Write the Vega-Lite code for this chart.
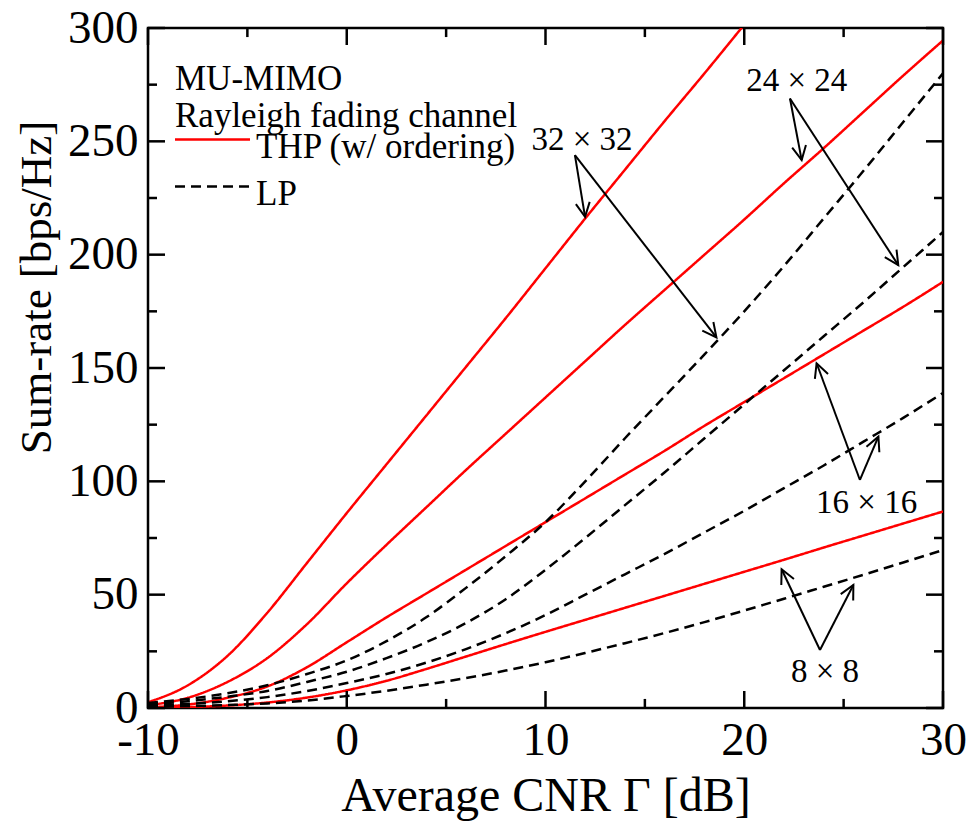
{
  "$schema": "https://vega.github.io/schema/vega-lite/v6.json",
  "width": 795,
  "height": 680,
  "autosize": {"type": "none"},
  "padding": {"left": 148, "top": 28, "right": 24, "bottom": 113},
  "background": "#ffffff",
  "config": {
    "view": {"stroke": "#000000", "strokeWidth": 2.5},
    "font": "Liberation Serif",
    "axis": {
      "domain": false,
      "ticks": false,
      "tickSize": 0,
      "grid": false,
      "labelFont": "Liberation Serif",
      "labelFontSize": 47,
      "labelColor": "#000000",
      "titleFont": "Liberation Serif",
      "titleFontSize": 46,
      "titleFontWeight": "normal",
      "titleColor": "#000000",
      "labelOverlap": false,
      "labelFlush": false,
      "labelBound": false
    },
    "legend": {
      "orient": "none",
      "legendX": 27,
      "legendY": 34,
      "padding": 0,
      "titleFont": "Liberation Serif",
      "titleFontSize": 35,
      "titleFontWeight": "normal",
      "titleColor": "#000000",
      "titleLineHeight": 37,
      "titlePadding": -12,
      "titleLimit": 0,
      "labelFont": "Liberation Serif",
      "labelFontSize": 35,
      "labelColor": "#000000",
      "labelOffset": 46,
      "labelLimit": 0,
      "labelBaseline": "middle",
      "symbolType": "M-2.333,0L7.667,0",
      "symbolSize": 225,
      "symbolStrokeWidth": 2.5,
      "rowPadding": 4
    }
  },
  "datasets": {
    "curves": [
      {"snr": -10, "rate": 2.5, "size": "32", "scheme": "THP (w/ ordering)"},
      {"snr": -8, "rate": 10, "size": "32", "scheme": "THP (w/ ordering)"},
      {"snr": -6, "rate": 23, "size": "32", "scheme": "THP (w/ ordering)"},
      {"snr": -4, "rate": 42, "size": "32", "scheme": "THP (w/ ordering)"},
      {"snr": -2, "rate": 64, "size": "32", "scheme": "THP (w/ ordering)"},
      {"snr": 0, "rate": 86, "size": "32", "scheme": "THP (w/ ordering)"},
      {"snr": 2, "rate": 107.5, "size": "32", "scheme": "THP (w/ ordering)"},
      {"snr": 4, "rate": 129, "size": "32", "scheme": "THP (w/ ordering)"},
      {"snr": 6, "rate": 150.5, "size": "32", "scheme": "THP (w/ ordering)"},
      {"snr": 8, "rate": 172, "size": "32", "scheme": "THP (w/ ordering)"},
      {"snr": 10, "rate": 194, "size": "32", "scheme": "THP (w/ ordering)"},
      {"snr": 12, "rate": 216, "size": "32", "scheme": "THP (w/ ordering)"},
      {"snr": 14, "rate": 237.5, "size": "32", "scheme": "THP (w/ ordering)"},
      {"snr": 16, "rate": 259, "size": "32", "scheme": "THP (w/ ordering)"},
      {"snr": 18, "rate": 280, "size": "32", "scheme": "THP (w/ ordering)"},
      {"snr": 20, "rate": 301.5, "size": "32", "scheme": "THP (w/ ordering)"},

      {"snr": -10, "rate": 1.2, "size": "24", "scheme": "THP (w/ ordering)"},
      {"snr": -8, "rate": 4.5, "size": "24", "scheme": "THP (w/ ordering)"},
      {"snr": -6, "rate": 11.5, "size": "24", "scheme": "THP (w/ ordering)"},
      {"snr": -4, "rate": 22, "size": "24", "scheme": "THP (w/ ordering)"},
      {"snr": -2, "rate": 37, "size": "24", "scheme": "THP (w/ ordering)"},
      {"snr": 0, "rate": 55, "size": "24", "scheme": "THP (w/ ordering)"},
      {"snr": 2, "rate": 72, "size": "24", "scheme": "THP (w/ ordering)"},
      {"snr": 4, "rate": 88.5, "size": "24", "scheme": "THP (w/ ordering)"},
      {"snr": 6, "rate": 105, "size": "24", "scheme": "THP (w/ ordering)"},
      {"snr": 8, "rate": 121, "size": "24", "scheme": "THP (w/ ordering)"},
      {"snr": 10, "rate": 137, "size": "24", "scheme": "THP (w/ ordering)"},
      {"snr": 12, "rate": 153, "size": "24", "scheme": "THP (w/ ordering)"},
      {"snr": 14, "rate": 169, "size": "24", "scheme": "THP (w/ ordering)"},
      {"snr": 16, "rate": 184.5, "size": "24", "scheme": "THP (w/ ordering)"},
      {"snr": 18, "rate": 200, "size": "24", "scheme": "THP (w/ ordering)"},
      {"snr": 20, "rate": 215.5, "size": "24", "scheme": "THP (w/ ordering)"},
      {"snr": 22, "rate": 231.5, "size": "24", "scheme": "THP (w/ ordering)"},
      {"snr": 24, "rate": 247, "size": "24", "scheme": "THP (w/ ordering)"},
      {"snr": 26, "rate": 263, "size": "24", "scheme": "THP (w/ ordering)"},
      {"snr": 28, "rate": 279, "size": "24", "scheme": "THP (w/ ordering)"},
      {"snr": 30, "rate": 294.5, "size": "24", "scheme": "THP (w/ ordering)"},

      {"snr": -10, "rate": 0.3, "size": "16", "scheme": "THP (w/ ordering)"},
      {"snr": -8, "rate": 1.5, "size": "16", "scheme": "THP (w/ ordering)"},
      {"snr": -6, "rate": 4.5, "size": "16", "scheme": "THP (w/ ordering)"},
      {"snr": -4, "rate": 9.5, "size": "16", "scheme": "THP (w/ ordering)"},
      {"snr": -2, "rate": 18, "size": "16", "scheme": "THP (w/ ordering)"},
      {"snr": 0, "rate": 29, "size": "16", "scheme": "THP (w/ ordering)"},
      {"snr": 2, "rate": 40, "size": "16", "scheme": "THP (w/ ordering)"},
      {"snr": 4, "rate": 50.5, "size": "16", "scheme": "THP (w/ ordering)"},
      {"snr": 6, "rate": 61, "size": "16", "scheme": "THP (w/ ordering)"},
      {"snr": 8, "rate": 71.5, "size": "16", "scheme": "THP (w/ ordering)"},
      {"snr": 10, "rate": 82, "size": "16", "scheme": "THP (w/ ordering)"},
      {"snr": 12, "rate": 92.5, "size": "16", "scheme": "THP (w/ ordering)"},
      {"snr": 14, "rate": 103, "size": "16", "scheme": "THP (w/ ordering)"},
      {"snr": 16, "rate": 113.5, "size": "16", "scheme": "THP (w/ ordering)"},
      {"snr": 18, "rate": 124.5, "size": "16", "scheme": "THP (w/ ordering)"},
      {"snr": 20, "rate": 135, "size": "16", "scheme": "THP (w/ ordering)"},
      {"snr": 22, "rate": 145.5, "size": "16", "scheme": "THP (w/ ordering)"},
      {"snr": 24, "rate": 156, "size": "16", "scheme": "THP (w/ ordering)"},
      {"snr": 26, "rate": 166.5, "size": "16", "scheme": "THP (w/ ordering)"},
      {"snr": 28, "rate": 177, "size": "16", "scheme": "THP (w/ ordering)"},
      {"snr": 30, "rate": 188, "size": "16", "scheme": "THP (w/ ordering)"},

      {"snr": -10, "rate": 0.1, "size": "8", "scheme": "THP (w/ ordering)"},
      {"snr": -8, "rate": 0.4, "size": "8", "scheme": "THP (w/ ordering)"},
      {"snr": -6, "rate": 1.1, "size": "8", "scheme": "THP (w/ ordering)"},
      {"snr": -4, "rate": 2.4, "size": "8", "scheme": "THP (w/ ordering)"},
      {"snr": -2, "rate": 4.6, "size": "8", "scheme": "THP (w/ ordering)"},
      {"snr": 0, "rate": 7.8, "size": "8", "scheme": "THP (w/ ordering)"},
      {"snr": 2, "rate": 12, "size": "8", "scheme": "THP (w/ ordering)"},
      {"snr": 4, "rate": 17.2, "size": "8", "scheme": "THP (w/ ordering)"},
      {"snr": 6, "rate": 22.7, "size": "8", "scheme": "THP (w/ ordering)"},
      {"snr": 8, "rate": 28.2, "size": "8", "scheme": "THP (w/ ordering)"},
      {"snr": 10, "rate": 33.6, "size": "8", "scheme": "THP (w/ ordering)"},
      {"snr": 12, "rate": 38.9, "size": "8", "scheme": "THP (w/ ordering)"},
      {"snr": 14, "rate": 44.2, "size": "8", "scheme": "THP (w/ ordering)"},
      {"snr": 16, "rate": 49.5, "size": "8", "scheme": "THP (w/ ordering)"},
      {"snr": 18, "rate": 54.8, "size": "8", "scheme": "THP (w/ ordering)"},
      {"snr": 20, "rate": 60.1, "size": "8", "scheme": "THP (w/ ordering)"},
      {"snr": 22, "rate": 65.4, "size": "8", "scheme": "THP (w/ ordering)"},
      {"snr": 24, "rate": 70.8, "size": "8", "scheme": "THP (w/ ordering)"},
      {"snr": 26, "rate": 76.1, "size": "8", "scheme": "THP (w/ ordering)"},
      {"snr": 28, "rate": 81.4, "size": "8", "scheme": "THP (w/ ordering)"},
      {"snr": 30, "rate": 86.7, "size": "8", "scheme": "THP (w/ ordering)"},

      {"snr": -10, "rate": 2.2, "size": "32", "scheme": "LP"},
      {"snr": -8, "rate": 4, "size": "32", "scheme": "LP"},
      {"snr": -6, "rate": 6.5, "size": "32", "scheme": "LP"},
      {"snr": -4, "rate": 10, "size": "32", "scheme": "LP"},
      {"snr": -2, "rate": 15, "size": "32", "scheme": "LP"},
      {"snr": 0, "rate": 21, "size": "32", "scheme": "LP"},
      {"snr": 2, "rate": 29.5, "size": "32", "scheme": "LP"},
      {"snr": 4, "rate": 40, "size": "32", "scheme": "LP"},
      {"snr": 6, "rate": 53, "size": "32", "scheme": "LP"},
      {"snr": 8, "rate": 67, "size": "32", "scheme": "LP"},
      {"snr": 10, "rate": 82, "size": "32", "scheme": "LP"},
      {"snr": 12, "rate": 100, "size": "32", "scheme": "LP"},
      {"snr": 14, "rate": 119, "size": "32", "scheme": "LP"},
      {"snr": 16, "rate": 137.5, "size": "32", "scheme": "LP"},
      {"snr": 18, "rate": 156, "size": "32", "scheme": "LP"},
      {"snr": 20, "rate": 175, "size": "32", "scheme": "LP"},
      {"snr": 22, "rate": 195, "size": "32", "scheme": "LP"},
      {"snr": 24, "rate": 216, "size": "32", "scheme": "LP"},
      {"snr": 26, "rate": 237, "size": "32", "scheme": "LP"},
      {"snr": 28, "rate": 258.5, "size": "32", "scheme": "LP"},
      {"snr": 30, "rate": 280, "size": "32", "scheme": "LP"},

      {"snr": -10, "rate": 1.6, "size": "24", "scheme": "LP"},
      {"snr": -8, "rate": 3, "size": "24", "scheme": "LP"},
      {"snr": -6, "rate": 5, "size": "24", "scheme": "LP"},
      {"snr": -4, "rate": 7.5, "size": "24", "scheme": "LP"},
      {"snr": -2, "rate": 11.5, "size": "24", "scheme": "LP"},
      {"snr": 0, "rate": 16, "size": "24", "scheme": "LP"},
      {"snr": 2, "rate": 22, "size": "24", "scheme": "LP"},
      {"snr": 4, "rate": 29, "size": "24", "scheme": "LP"},
      {"snr": 6, "rate": 37.5, "size": "24", "scheme": "LP"},
      {"snr": 8, "rate": 48, "size": "24", "scheme": "LP"},
      {"snr": 10, "rate": 61, "size": "24", "scheme": "LP"},
      {"snr": 12, "rate": 75, "size": "24", "scheme": "LP"},
      {"snr": 14, "rate": 89.5, "size": "24", "scheme": "LP"},
      {"snr": 16, "rate": 104, "size": "24", "scheme": "LP"},
      {"snr": 18, "rate": 119, "size": "24", "scheme": "LP"},
      {"snr": 20, "rate": 134, "size": "24", "scheme": "LP"},
      {"snr": 22, "rate": 149, "size": "24", "scheme": "LP"},
      {"snr": 24, "rate": 164, "size": "24", "scheme": "LP"},
      {"snr": 26, "rate": 179, "size": "24", "scheme": "LP"},
      {"snr": 28, "rate": 194.5, "size": "24", "scheme": "LP"},
      {"snr": 30, "rate": 210, "size": "24", "scheme": "LP"},

      {"snr": -10, "rate": 1, "size": "16", "scheme": "LP"},
      {"snr": -8, "rate": 1.8, "size": "16", "scheme": "LP"},
      {"snr": -6, "rate": 3, "size": "16", "scheme": "LP"},
      {"snr": -4, "rate": 4.8, "size": "16", "scheme": "LP"},
      {"snr": -2, "rate": 7.5, "size": "16", "scheme": "LP"},
      {"snr": 0, "rate": 11, "size": "16", "scheme": "LP"},
      {"snr": 2, "rate": 15, "size": "16", "scheme": "LP"},
      {"snr": 4, "rate": 20, "size": "16", "scheme": "LP"},
      {"snr": 6, "rate": 26, "size": "16", "scheme": "LP"},
      {"snr": 8, "rate": 33, "size": "16", "scheme": "LP"},
      {"snr": 10, "rate": 41, "size": "16", "scheme": "LP"},
      {"snr": 12, "rate": 50, "size": "16", "scheme": "LP"},
      {"snr": 14, "rate": 59, "size": "16", "scheme": "LP"},
      {"snr": 16, "rate": 68, "size": "16", "scheme": "LP"},
      {"snr": 18, "rate": 77.5, "size": "16", "scheme": "LP"},
      {"snr": 20, "rate": 87, "size": "16", "scheme": "LP"},
      {"snr": 22, "rate": 97, "size": "16", "scheme": "LP"},
      {"snr": 24, "rate": 107, "size": "16", "scheme": "LP"},
      {"snr": 26, "rate": 117.5, "size": "16", "scheme": "LP"},
      {"snr": 28, "rate": 128, "size": "16", "scheme": "LP"},
      {"snr": 30, "rate": 139, "size": "16", "scheme": "LP"},

      {"snr": -10, "rate": 0.5, "size": "8", "scheme": "LP"},
      {"snr": -8, "rate": 0.8, "size": "8", "scheme": "LP"},
      {"snr": -6, "rate": 1.3, "size": "8", "scheme": "LP"},
      {"snr": -4, "rate": 2, "size": "8", "scheme": "LP"},
      {"snr": -2, "rate": 3.3, "size": "8", "scheme": "LP"},
      {"snr": 0, "rate": 5.3, "size": "8", "scheme": "LP"},
      {"snr": 2, "rate": 7.6, "size": "8", "scheme": "LP"},
      {"snr": 4, "rate": 10.3, "size": "8", "scheme": "LP"},
      {"snr": 6, "rate": 13.2, "size": "8", "scheme": "LP"},
      {"snr": 8, "rate": 16.5, "size": "8", "scheme": "LP"},
      {"snr": 10, "rate": 20.2, "size": "8", "scheme": "LP"},
      {"snr": 12, "rate": 24.3, "size": "8", "scheme": "LP"},
      {"snr": 14, "rate": 28.6, "size": "8", "scheme": "LP"},
      {"snr": 16, "rate": 33.1, "size": "8", "scheme": "LP"},
      {"snr": 18, "rate": 37.9, "size": "8", "scheme": "LP"},
      {"snr": 20, "rate": 43, "size": "8", "scheme": "LP"},
      {"snr": 22, "rate": 48.2, "size": "8", "scheme": "LP"},
      {"snr": 24, "rate": 53.5, "size": "8", "scheme": "LP"},
      {"snr": 26, "rate": 58.8, "size": "8", "scheme": "LP"},
      {"snr": 28, "rate": 64.2, "size": "8", "scheme": "LP"},
      {"snr": 30, "rate": 69.7, "size": "8", "scheme": "LP"}
    ],
    "xticks": [
      {"value": -10}, {"value": -5}, {"value": 0}, {"value": 5}, {"value": 10},
      {"value": 15}, {"value": 20}, {"value": 25}, {"value": 30}
    ],
    "yticks": [
      {"value": 0}, {"value": 25}, {"value": 50}, {"value": 75}, {"value": 100},
      {"value": 125}, {"value": 150}, {"value": 175}, {"value": 200}, {"value": 225},
      {"value": 250}, {"value": 275}, {"value": 300}
    ],
    "arrows": [
      {"label": "32 × 32", "x1": 11.48, "y1": 243.9, "x2": 11.99, "y2": 216.7},
      {"label": "32 × 32", "x1": 11.48, "y1": 243.9, "x2": 18.6, "y2": 163.5},
      {"label": "24 × 24", "x1": 22.3, "y1": 268.9, "x2": 22.89, "y2": 241.7},
      {"label": "24 × 24", "x1": 22.3, "y1": 268.9, "x2": 27.75, "y2": 195.4},
      {"label": "16 × 16", "x1": 25.82, "y1": 100.6, "x2": 23.64, "y2": 152.1},
      {"label": "16 × 16", "x1": 25.82, "y1": 100.6, "x2": 26.75, "y2": 119.7},
      {"label": "8 × 8", "x1": 23.81, "y1": 25.6, "x2": 21.88, "y2": 61.2},
      {"label": "8 × 8", "x1": 23.81, "y1": 25.6, "x2": 25.49, "y2": 54.3}
    ],
    "labels": [
      {"label": "32 × 32", "x": 11.84, "y": 250.8},
      {"label": "24 × 24", "x": 22.64, "y": 276.6},
      {"label": "16 × 16", "x": 26.16, "y": 90.6},
      {"label": "8 × 8", "x": 24.06, "y": 16.0}
    ]
  },
  "layer": [
    {
      "data": {"name": "curves"},
      "mark": {"type": "line", "strokeWidth": 2.5, "interpolate": "monotone", "clip": true},
      "encoding": {
        "x": {
          "field": "snr", "type": "quantitative",
          "scale": {"domain": [-10, 30], "nice": false, "zero": false},
          "axis": {
            "orient": "bottom",
            "values": [-10, 0, 10, 20, 30],
            "labelExpr": "'' + datum.value",
            "labelPadding": 9,
            "title": "Average CNR Γ [dB]",
            "titleFontSize": 48,
            "titleY": 102,
            "titleBaseline": "alphabetic"
          }
        },
        "y": {
          "field": "rate", "type": "quantitative",
          "scale": {"domain": [0, 300], "nice": false},
          "axis": {
            "orient": "left",
            "values": [0, 50, 100, 150, 200, 250, 300],
            "labelExpr": "'' + datum.value",
            "labelPadding": 10,
            "title": "Sum-rate [bps/Hz]",
            "titleFontSize": 45,
            "titleAngle": -90,
            "titleX": -98,
            "titleY": 259,
            "titleBaseline": "alphabetic"
          }
        },
        "detail": {"field": "size"},
        "color": {
          "field": "scheme", "type": "nominal",
          "scale": {"domain": ["THP (w/ ordering)", "LP"], "range": ["#ff0000", "#000000"]},
          "legend": {
            "title": ["MU-MIMO", "Rayleigh fading channel"],
            "encode": {"labels": {"update": {"dy": {"value": 7}}}}
          }
        },
        "strokeDash": {
          "field": "scheme", "type": "nominal",
          "scale": {"domain": ["THP (w/ ordering)", "LP"], "range": [[1, 0], [10, 6]]},
          "legend": {
            "title": ["MU-MIMO", "Rayleigh fading channel"],
            "encode": {"labels": {"update": {"dy": {"value": 7}}}}
          }
        }
      }
    },
    {
      "data": {"name": "xticks"},
      "transform": [{"filter": "datum.value % 10 === 0"}],
      "mark": {"type": "rule", "stroke": "#000000", "strokeWidth": 2.5},
      "encoding": {
        "x": {"field": "value", "type": "quantitative"},
        "y": {"datum": 0, "type": "quantitative"},
        "y2": {"datum": 7.5}
      }
    },
    {
      "data": {"name": "xticks"},
      "transform": [{"filter": "datum.value % 10 === 0"}],
      "mark": {"type": "rule", "stroke": "#000000", "strokeWidth": 2.5},
      "encoding": {
        "x": {"field": "value", "type": "quantitative"},
        "y": {"datum": 300, "type": "quantitative"},
        "y2": {"datum": 292.5}
      }
    },
    {
      "data": {"name": "xticks"},
      "transform": [{"filter": "datum.value % 10 !== 0"}],
      "mark": {"type": "rule", "stroke": "#000000", "strokeWidth": 2.5},
      "encoding": {
        "x": {"field": "value", "type": "quantitative"},
        "y": {"datum": 0, "type": "quantitative"},
        "y2": {"datum": 4}
      }
    },
    {
      "data": {"name": "xticks"},
      "transform": [{"filter": "datum.value % 10 !== 0"}],
      "mark": {"type": "rule", "stroke": "#000000", "strokeWidth": 2.5},
      "encoding": {
        "x": {"field": "value", "type": "quantitative"},
        "y": {"datum": 300, "type": "quantitative"},
        "y2": {"datum": 296}
      }
    },
    {
      "data": {"name": "yticks"},
      "transform": [{"filter": "datum.value % 50 === 0"}],
      "mark": {"type": "rule", "stroke": "#000000", "strokeWidth": 2.5},
      "encoding": {
        "y": {"field": "value", "type": "quantitative"},
        "x": {"datum": -10, "type": "quantitative"},
        "x2": {"datum": -9.145}
      }
    },
    {
      "data": {"name": "yticks"},
      "transform": [{"filter": "datum.value % 50 === 0"}],
      "mark": {"type": "rule", "stroke": "#000000", "strokeWidth": 2.5},
      "encoding": {
        "y": {"field": "value", "type": "quantitative"},
        "x": {"datum": 30, "type": "quantitative"},
        "x2": {"datum": 29.145}
      }
    },
    {
      "data": {"name": "yticks"},
      "transform": [{"filter": "datum.value % 50 !== 0"}],
      "mark": {"type": "rule", "stroke": "#000000", "strokeWidth": 2.5},
      "encoding": {
        "y": {"field": "value", "type": "quantitative"},
        "x": {"datum": -10, "type": "quantitative"},
        "x2": {"datum": -9.547}
      }
    },
    {
      "data": {"name": "yticks"},
      "transform": [{"filter": "datum.value % 50 !== 0"}],
      "mark": {"type": "rule", "stroke": "#000000", "strokeWidth": 2.5},
      "encoding": {
        "y": {"field": "value", "type": "quantitative"},
        "x": {"datum": 30, "type": "quantitative"},
        "x2": {"datum": 29.547}
      }
    },
    {
      "data": {"name": "arrows"},
      "mark": {"type": "rule", "stroke": "#000000", "strokeWidth": 2},
      "encoding": {
        "x": {"field": "x1", "type": "quantitative"},
        "y": {"field": "y1", "type": "quantitative"},
        "x2": {"field": "x2"},
        "y2": {"field": "y2"}
      }
    },
    {
      "data": {"name": "arrows"},
      "transform": [
        {"calculate": "atan2((datum.x2 - datum.x1) * 19.875, (datum.y2 - datum.y1) * 2.2667) * 180 / PI", "as": "heading"}
      ],
      "mark": {"type": "point", "shape": "M-0.5,1L0,0L0.5,1", "filled": false, "stroke": "#000000", "strokeWidth": 2, "size": 784, "opacity": 1},
      "encoding": {
        "x": {"field": "x2", "type": "quantitative"},
        "y": {"field": "y2", "type": "quantitative"},
        "angle": {"field": "heading", "type": "quantitative", "scale": null}
      }
    },
    {
      "data": {"name": "labels"},
      "mark": {"type": "text", "font": "Liberation Serif", "fontSize": 33, "color": "#000000", "align": "center", "baseline": "middle"},
      "encoding": {
        "x": {"field": "x", "type": "quantitative"},
        "y": {"field": "y", "type": "quantitative"},
        "text": {"field": "label"}
      }
    }
  ]
}
